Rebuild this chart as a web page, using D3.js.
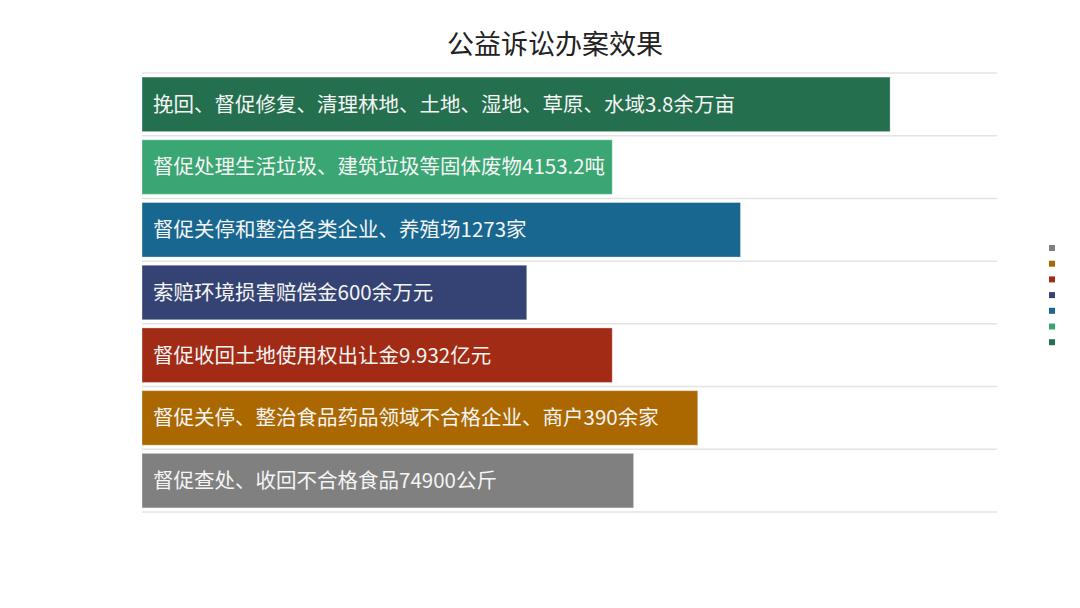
<html lang="zh">
<head>
    <meta charset="UTF-8">
    <title>公益诉讼办案效果</title>
    <style>
        body { margin: 0; background: #fff; }
        text { font-family: "Noto Sans CJK SC", "Noto Sans", sans-serif; }
    </style>
</head>
<body>
<script src="https://d3js.org/d3.v7.min.js"></script>
<script>
    var title = "公益诉讼办案效果";
    var categories = [
        "挽回、督促修复、清理林地、土地、湿地、草原、水域3.8余万亩",
        "督促处理生活垃圾、建筑垃圾等固体废物4153.2吨",
        "督促关停和整治各类企业、养殖场1273家",
        "索赔环境损害赔偿金600余万元",
        "督促收回土地使用权出让金9.932亿元",
        "督促关停、整治食品药品领域不合格企业、商户390余家",
        "督促查处、收回不合格食品74900公斤"
    ];
    var values = [87.5, 55, 70, 45, 55, 65, 57.5];
    var colors = ["#236f4e", "#39a673", "#186790", "#344373", "#a22b15", "#ac6800", "#808080"];

    var width = 1080, height = 608;
    var svg = d3.select("body").append("svg").attr("width", width).attr("height", height);

    var plotLeft = 142, plotRight = 997, plotTop = 73, plotBottom = 512;

    var x = d3.scaleLinear().domain([0, 100]).range([plotLeft, plotRight]);
    var y = d3.scaleBand().domain(d3.range(categories.length)).range([plotTop, plotBottom]).paddingInner(0.13).paddingOuter(0.065);

    svg.append("text")
        .attr("x", 555).attr("y", 54)
        .attr("text-anchor", "middle")
        .attr("font-size", 27)
        .attr("fill", "#222")
        .text(title);

    // grid lines between rows
    var step = (plotBottom - plotTop) / categories.length;
    svg.selectAll(".grid").data(d3.range(categories.length + 1)).enter().append("line")
        .attr("x1", plotLeft).attr("x2", plotRight)
        .attr("y1", function(d){ return plotTop + d * step; })
        .attr("y2", function(d){ return plotTop + d * step; })
        .attr("stroke", "#e4e4e4")
        .attr("stroke-width", 1.5);

    var g = svg.selectAll(".bar").data(values).enter().append("g");

    g.append("rect")
        .attr("x", x(0))
        .attr("y", function(d, i){ return y(i); })
        .attr("width", function(d){ return x(d) - x(0); })
        .attr("height", y.bandwidth())
        .attr("fill", function(d, i){ return colors[i]; })
        .attr("stroke", "#ffffff")
        .attr("stroke-opacity", 0.35)
        .attr("stroke-width", 1);

    g.append("text")
        .attr("x", x(0) + 11)
        .attr("y", function(d, i){ return y(i) + y.bandwidth() / 2; })
        .attr("dy", "0.36em")
        .attr("font-size", 20.5)
        .attr("fill", "#f4f4f4")
        .text(function(d, i){ return categories[i]; });

    // legend: colour squares only, reversed order
    svg.selectAll(".legend").data(d3.range(categories.length).reverse()).enter().append("rect")
        .attr("x", 1049)
        .attr("y", function(d, i){ return 245 + i * 15.7; })
        .attr("width", 6).attr("height", 6)
        .attr("fill", function(d){ return colors[d]; });
</script>
</body>
</html>
